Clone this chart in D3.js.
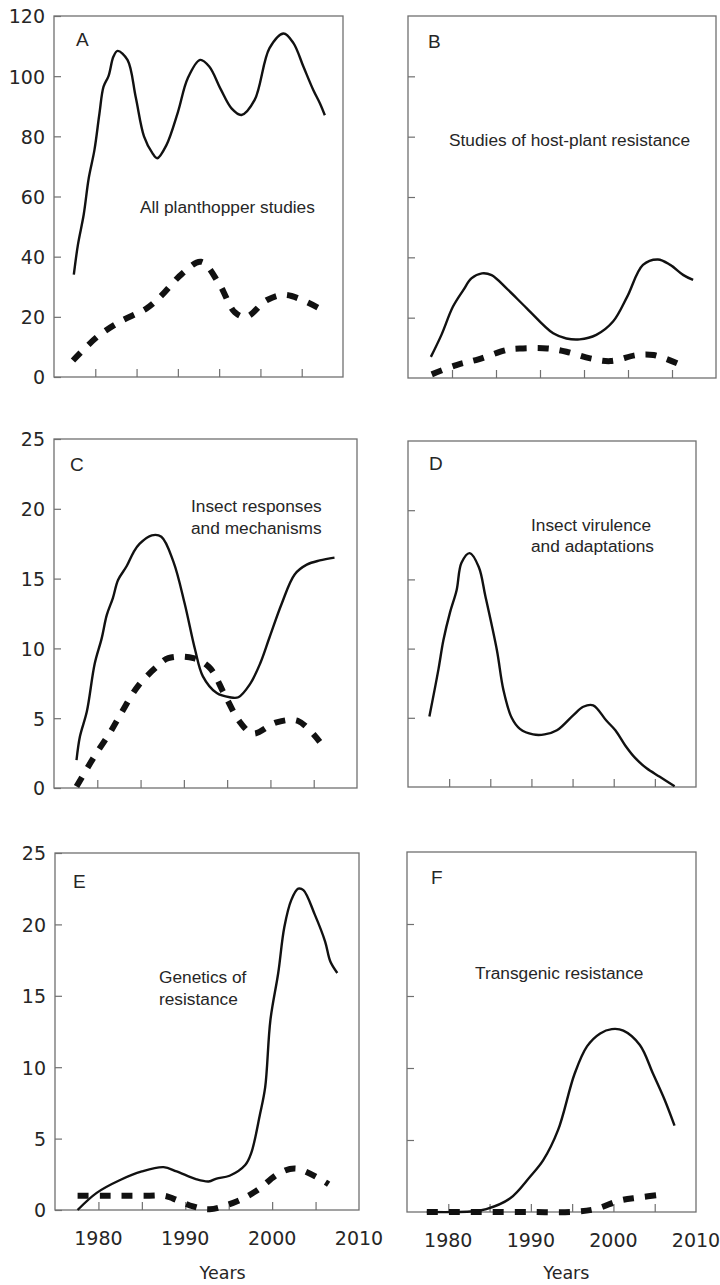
<!DOCTYPE html>
<html><head><meta charset="utf-8">
<script src="https://cdn.jsdelivr.net/npm/d3@7"></script>
<style>body{margin:0;background:#fff}</style>
</head><body>
<svg id="chart" width="720" height="1285"></svg>
<script>
// ---------- data ----------
const aSolidYears  = [1977.4,1977.9,1978.6,1979.2,1979.9,1980.5,1981.0,1981.6,1982.2,1982.7,1983.9,1984.9,1985.9,1986.9,1987.5,1988.6,1990.0,1991.2,1992.7,1993.8,1995.2,1996.5,1997.7,1999.3,2001.1,2002.8,2004.0,2005.2,2006.4,2007.2,2007.8];
const aSolidValues = [34,44,54,66,75.5,87.5,96.5,100,106.5,108.4,105.4,93,80,74.5,72.7,77,88,99.3,105.4,103.2,95.6,89.3,87.1,92.1,109.3,114.2,111,103.2,95.4,91,87];
const aDashYears   = [1977.3,1980.3,1983,1986.2,1987.8,1990.5,1992.8,1995,1996.9,1998.3,2000.8,2003.1,2007];
const aDashValues  = [5.5,13.5,18.4,22.8,26.5,34.3,38.3,31,21.5,20,25.6,27.3,23];

const bSolidYears  = [1977.6,1978.8,1980.1,1981.3,1982.2,1983.4,1984.5,1986.2,1988.5,1991.5,1993,1994.5,1996.4,1998.3,1999.9,2001.7,2003.4,2004.8,2006.3,2007.4];
const bSolidValues = [7,14.3,23.6,29.2,33,34.7,34.1,29.7,23.1,14.8,13.1,12.8,14.3,18.7,26.9,37.5,39.3,37.5,34.1,32.5];
const bDashYears   = [1977.7,1980.5,1983,1986.2,1987.7,1990.8,1993,1995.7,1998,2001,2002.9,2005.9];
const bDashValues  = [1.2,4.3,6.2,9.3,9.8,9.8,8.7,6.5,5.6,7.6,7.6,4.5];

const cSolidYears  = [1977.6,1978,1978.8,1979.7,1980.5,1981.1,1981.8,1982.4,1983.4,1984.2,1984.9,1986.3,1987.4,1988.8,1990.1,1991.3,1992.2,1993.8,1995.3,1996.3,1997.6,1998.8,1999.9,2001.3,2002.8,2004.2,2005.7,2007.4];
const cSolidValues = [2,3.7,5.5,8.9,10.7,12.4,13.6,14.9,15.9,16.9,17.5,18.1,18,16.2,13.2,9.9,8,6.8,6.5,6.5,7.4,8.9,10.8,13.2,15.3,16,16.3,16.5];
const cDashYears   = [1977.6,1979.6,1981.5,1982.8,1984.7,1986.9,1988.2,1991.1,1993,1994.7,1996.5,1998,2000.7,2003.2,2005.7];
const cDashValues  = [0.1,2.2,4,5.4,7.3,8.7,9.3,9.3,8.6,6.7,4.7,3.9,4.7,4.8,3.3];

const dSolidYears  = [1977.6,1978.7,1979.3,1980.1,1980.9,1981.5,1982.5,1983.6,1984.4,1985.8,1986.6,1987.6,1988.6,1990.2,1991.6,1993.1,1995.1,1996.3,1997.5,1999.1,2000.2,2001.4,2002.6,2004,2005.6,2007.4];
const dSolidValues = [5.1,8.5,10.6,12.6,14.2,16.2,16.9,15.9,13.8,9.9,7,5,4.2,3.8,3.8,4.1,5.2,5.8,5.9,4.8,4.1,3,2.1,1.35,0.74,0.05];

const eSolidYears  = [1977.6,1979.8,1982.5,1985,1987.5,1989,1991.3,1992.7,1993.6,1995.1,1996.9,1997.6,1998.6,1999.2,1999.8,2000.7,2001.4,2002.2,2003,2003.6,2004.9,2006.1,2006.7,2007.5];
const eSolidValues = [0,1.2,2.1,2.7,3,2.7,2.15,2,2.2,2.4,3.15,4,6.7,8.6,13.3,16.6,19.8,21.7,22.5,22.4,20.7,18.8,17.4,16.6];
const eDashYears   = [1977.6,1980.5,1982.8,1985.9,1987.6,1988.6,1990.9,1992.8,1995.9,1998.2,2000.9,2002.8,2006.5];
const eDashValues  = [1,1,1,1,1,0.8,0.25,0.05,0.6,1.35,2.6,2.9,1.8];

const fSolidYears  = [1977.4,1981,1983,1984.6,1987.5,1989.9,1991.5,1993.3,1995.3,1996.8,1998.4,1999.8,2001.2,2003.2,2004.8,2006.2,2007.4];
const fSolidValues = [0,0,0.05,0.2,0.95,2.45,3.6,5.7,9.6,11.5,12.4,12.7,12.6,11.6,9.6,7.8,6];
const fDashYears   = [1977.4,1981,1985,1990,1995,1997.8,2000.8,2003,2005.8];
const fDashValues  = [0,0,0,0,0,0.2,0.8,1,1.2];

const xTickYears  = [1980,1985,1990,1995,2000,2005];
const xLabelYears = [1980,1990,2000,2010];
const yTicksTop   = [0,20,40,60,80,100,120];
const yTicksLow   = [0,5,10,15,20,25];
const panelLetters = ["A","B","C","D","E","F"];
const panelTitles  = [["All planthopper studies"],["Studies of host-plant resistance"],["Insect responses","and mechanisms"],["Insect virulence","and adaptations"],["Genetics of","resistance"],["Transgenic resistance"]];
const xAxisTitle = "Years";

// ---------- layout ----------
const panels = [
  {frame:[54,343,16,377],  yTicks:yTicksTop, yLabels:true,  xLabels:false, solid:[aSolidYears,aSolidValues], dash:[aDashYears,aDashValues], letter:[22,30], title:[86,197], lh:22},
  {frame:[408,716,16,378], yTicks:yTicksTop, yLabels:false, xLabels:false, solid:[bSolidYears,bSolidValues], dash:[bDashYears,bDashValues], letter:[20,32], title:[41,130], lh:22},
  {frame:[54,357,439,788], yTicks:yTicksLow, yLabels:true,  xLabels:false, solid:[cSolidYears,cSolidValues], dash:[cDashYears,cDashValues], letter:[16,32], title:[137,73], lh:22},
  {frame:[408,696,441,787],yTicks:yTicksLow, yLabels:false, xLabels:false, solid:[dSolidYears,dSolidValues], dash:null, letter:[21,29], title:[123,90], lh:21},
  {frame:[55,359,853,1210],yTicks:yTicksLow, yLabels:true,  xLabels:true,  solid:[eSolidYears,eSolidValues], dash:[eDashYears,eDashValues], letter:[18,35], title:[104,130], lh:22},
  {frame:[407,696,852,1212],yTicks:yTicksLow,yLabels:false, xLabels:true,  solid:[fSolidYears,fSolidValues], dash:[fDashYears,fDashValues], letter:[24,32], title:[68,127], lh:22}
];

const svg = d3.select("#chart");
const frameColor = "#707070";
const textColor = "#262626";

panels.forEach((p, i) => {
  const [x0, x1, y0, y1] = p.frame;
  const yMax = d3.max(p.yTicks);
  const x = d3.scaleLinear().domain([1975, 2010]).range([x0, x1]);
  const y = d3.scaleLinear().domain([0, yMax]).range([y1, y0]);
  const g = svg.append("g");

  // y axis (inward ticks)
  const ya = d3.axisLeft(y).tickSizeInner(-7).tickSizeOuter(0).tickPadding(9)
    .tickValues(p.yLabels ? p.yTicks : p.yTicks.slice(1, -1))
    .tickFormat(p.yLabels ? d3.format("d") : () => "");
  const yg = g.append("g").attr("transform", `translate(${x0},0)`).call(ya);
  yg.select(".domain").remove();
  yg.selectAll(".tick line").attr("stroke", frameColor).attr("stroke-width", 1.2);
  yg.selectAll(".tick text").attr("fill", textColor).attr("font-family", "DejaVu Sans")
    .attr("font-size", 19).attr("dy", "0.36em");

  // x axis (inward ticks)
  const xa = d3.axisBottom(x).tickSizeInner(-8).tickSizeOuter(0).tickValues(xTickYears).tickFormat(() => "");
  const xg = g.append("g").attr("transform", `translate(0,${y1})`).call(xa);
  xg.select(".domain").remove();
  xg.selectAll(".tick line").attr("stroke", frameColor).attr("stroke-width", 1.2);

  if (p.xLabels) {
    g.selectAll("text.xl").data(xLabelYears).join("text")
      .attr("class", "xl")
      .attr("x", d => x(d)).attr("y", y1 + 35)
      .attr("text-anchor", "middle").attr("fill", textColor)
      .attr("font-family", "DejaVu Sans").attr("font-size", 19)
      .text(d => d);
    g.append("text").attr("x", x(1994.3)).attr("y", 1279)
      .attr("text-anchor", "middle").attr("fill", textColor)
      .attr("font-family", "DejaVu Sans").attr("font-size", 17.5)
      .text(xAxisTitle);
  }

  // frame
  g.append("rect").attr("x", x0).attr("y", y0).attr("width", x1 - x0).attr("height", y1 - y0)
    .attr("fill", "none").attr("stroke", frameColor).attr("stroke-width", 1.3);

  const line = d3.line().x(d => x(d[0])).y(d => y(d[1])).curve(d3.curveCatmullRom.alpha(0.5));

  if (p.dash) {
    const dd = d3.zip(p.dash[0], p.dash[1]);
    g.append("path").datum(dd).attr("d", line)
      .attr("fill", "none").attr("stroke", "#111").attr("stroke-width", 6)
      .attr("stroke-dasharray", "11,11");
  }
  const sd = d3.zip(p.solid[0], p.solid[1]);
  g.append("path").datum(sd).attr("d", line)
    .attr("fill", "none").attr("stroke", "#111").attr("stroke-width", 2.4)
    .attr("stroke-linejoin", "round");

  // panel letter
  g.append("text").attr("x", x0 + p.letter[0]).attr("y", y0 + p.letter[1])
    .attr("fill", textColor).attr("font-family", "Liberation Sans").attr("font-size", 19)
    .text(panelLetters[i]);

  // annotation
  const t = g.append("text").attr("fill", textColor).attr("font-family", "Liberation Sans").attr("font-size", 17.3);
  panelTitles[i].forEach((s, k) => {
    t.append("tspan").attr("x", x0 + p.title[0]).attr("y", y0 + p.title[1] + k * p.lh).text(s);
  });
});
</script>
</body></html>
